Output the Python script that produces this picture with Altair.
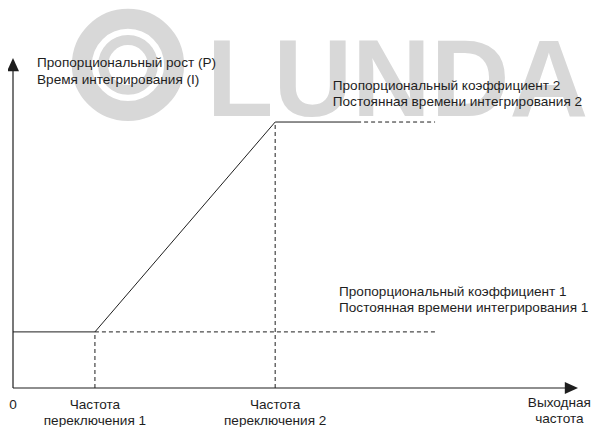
import altair as alt
import pandas as pd

# Diagram values (abstract units: frequency 0-100, gain 0-100)
freq_switch = [14.5, 46.4]          # switching frequency 1, 2
gain_levels = [17.0, 80.6]          # P/I level 1, 2
solid_end = 60.9                    # end of solid top line
dash_end = 74.7                     # end of dashed extensions
axis_max = [100.0, 100.0]           # arrow tips (x, y)

x_labels = ["0", "Частота\nпереключения 1", "Частота\nпереключения 2", "Выходная\nчастота"]
y_title = "Пропорциональный рост (P)\nВремя интегрирования (I)"
level_labels = [
    "Пропорциональный коэффициент  1\nПостоянная времени интегрирования 1",
    "Пропорциональный коэффициент  2\nПостоянная времени интегрирования 2",
]
watermark = "LUNDA"

FONT = "Liberation Sans"
INK = "#1e1e1e"
WM = "#d8d8d8"
FS = 13.6

xs = alt.Scale(domain=[0, 100], range=[5, 570])
ys = alt.Scale(domain=[0, 100], range=[380, 50])

def X(f="x"):
    return alt.X(f"{f}:Q", scale=xs, axis=None)

def Y(f="y"):
    return alt.Y(f"{f}:Q", scale=ys, axis=None)

# watermark
ring_pos = pd.DataFrame({"x": [20.35], "y": [97.9]})
ring_outer = alt.Chart(ring_pos).mark_point(
    shape="circle", filled=False, size=8500, strokeWidth=20, color=WM, opacity=1
).encode(x=X(), y=Y())
ring_inner = alt.Chart(ring_pos).mark_point(
    shape="circle", filled=False, size=2463, strokeWidth=10, color=WM, opacity=1
).encode(x=X(), y=Y())
wm_text = alt.Chart(pd.DataFrame({"x": [34.3], "y": [82.4], "t": [watermark]})).mark_text(
    font=FONT, fontSize=109, fontWeight="bold", color=WM, align="left", baseline="alphabetic"
).encode(x=X(), y=Y(), text="t:N")

# main curve
curve = pd.DataFrame({
    "x": [0, freq_switch[0], freq_switch[1], solid_end],
    "y": [gain_levels[0], gain_levels[0], gain_levels[1], gain_levels[1]],
})
curve_line = alt.Chart(curve).mark_line(color=INK, strokeWidth=1).encode(
    x=X(), y=Y(), order=alt.Order("x:Q")
)

# dashed guides
dashes = pd.DataFrame({
    "x": [freq_switch[0], freq_switch[1], freq_switch[0], solid_end],
    "x2": [freq_switch[0], freq_switch[1], dash_end, dash_end],
    "y": [0, 0, gain_levels[0], gain_levels[1]],
    "y2": [gain_levels[0], gain_levels[1], gain_levels[0], gain_levels[1]],
})
dash_rules = alt.Chart(dashes).mark_rule(color=INK, strokeWidth=1, strokeDash=[4, 3]).encode(
    x=X(), x2="x2:Q", y=Y(), y2="y2:Q"
)

# axes
axes = pd.DataFrame({"x": [0, 0], "x2": [axis_max[0] - 1, 0], "y": [0, 0], "y2": [0, axis_max[1] - 1]})
axis_rules = alt.Chart(axes).mark_rule(color=INK, strokeWidth=1.2).encode(
    x=X(), x2="x2:Q", y=Y(), y2="y2:Q"
)
arrow_up = alt.Chart(pd.DataFrame({"x": [0], "y": [axis_max[1]]})).mark_point(
    shape="M0,0L1,2.2L-1,2.2Z", size=144, filled=True, color=INK, opacity=1
).encode(x=X(), y=Y())
arrow_right = alt.Chart(pd.DataFrame({"x": [axis_max[0]], "y": [0]})).mark_point(
    shape="M0,0L-2.2,-1L-2.2,1Z", size=144, filled=True, color=INK, opacity=1
).encode(x=X(), y=Y())

# texts (anchor = first line)
xt = pd.DataFrame({
    "x": [0, freq_switch[0], freq_switch[1], 96.7],
    "y": [-5.3, -5.3, -5.3, -4.5],
    "t": x_labels,
})
x_text = alt.Chart(xt).mark_text(
    font=FONT, fontSize=FS, color=INK, align="center", baseline="middle", lineBreak="\n", lineHeight=16
).encode(x=X(), y=Y(), text="t:N")

yt = pd.DataFrame({"x": [4.25], "y": [98.5], "t": [y_title]})
y_text = alt.Chart(yt).mark_text(
    font=FONT, fontSize=FS, color=INK, align="left", baseline="middle", lineBreak="\n", lineHeight=17
).encode(x=X(), y=Y(), text="t:N")

lt = pd.DataFrame({"x": [57.7, 56.6], "y": [29.1, 91.5], "t": level_labels})
l_text = alt.Chart(lt).mark_text(
    font=FONT, fontSize=FS, color=INK, align="left", baseline="middle", lineBreak="\n", lineHeight=16
).encode(x=X(), y=Y(), text="t:N")

chart = alt.layer(
    ring_outer, ring_inner, wm_text,
    dash_rules, curve_line, axis_rules, arrow_up, arrow_right,
    x_text, y_text, l_text,
).properties(
    width=584, height=419, padding=0, autosize=alt.AutoSizeParams(type="none"),
    background="white",
).configure_view(stroke=None, clip=False)

chart.save("out.html", embed_options={"renderer": "svg", "actions": False})
